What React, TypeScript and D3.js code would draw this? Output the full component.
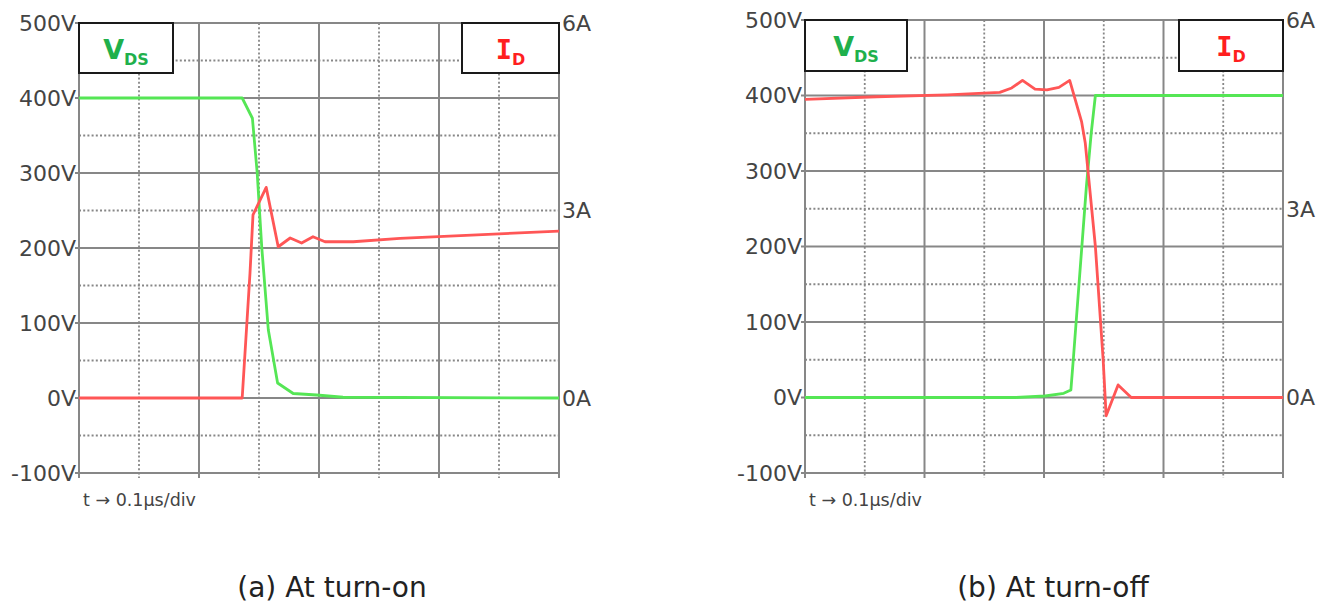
import { useEffect, useRef } from 'react';
import * as d3 from 'd3';

// time in µs, 0.1 µs per division
const turnOnVdsTime = [0, 0.272, 0.289, 0.297, 0.3045, 0.3155, 0.331, 0.357, 0.396, 0.44, 0.8];
const turnOnVds = [400, 400, 373, 300, 202, 91, 20, 6, 4, 1, 0];
const turnOnIdTime = [0, 0.272, 0.285, 0.29, 0.312, 0.332, 0.352, 0.371, 0.39, 0.41, 0.457, 0.535, 0.8];
const turnOnId = [0, 0, 2.0, 2.93, 3.37, 2.42, 2.56, 2.48, 2.58, 2.5, 2.5, 2.555, 2.67];

const turnOffVdsTime = [0, 0.353, 0.402, 0.433, 0.445, 0.449, 0.471, 0.479, 0.486, 0.8];
const turnOffVds = [0, 0, 2, 5.6, 10, 50, 280, 350, 400, 400];
const turnOffIdTime = [0, 0.12, 0.238, 0.326, 0.346, 0.364, 0.385, 0.405, 0.425, 0.443, 0.463, 0.469, 0.486, 0.499, 0.504, 0.524, 0.546, 0.8];
const turnOffId = [4.74, 4.78, 4.81, 4.85, 4.92, 5.04, 4.9, 4.89, 4.93, 5.04, 4.38, 4.05, 2.4, 0.6, -0.29, 0.2, 0, 0];

const timeTicks = [0, 0.1, 0.2, 0.3, 0.4, 0.5, 0.6, 0.7, 0.8];
const voltTicks = [-100, -50, 0, 50, 100, 150, 200, 250, 300, 350, 400, 450, 500];
const voltLabels = [-100, 0, 100, 200, 300, 400, 500];
const ampLabels = [0, 3, 6];

const captions = ['(a) At turn-on', '(b) At turn-off'];

interface PanelLayout {
  left: number;
  right: number;
  top: number;
  bottom: number;
  vdsBoxW: number;
  idBoxW: number;
  boxH: number;
  captionX: number;
}

const layouts: PanelLayout[] = [
  { left: 79, right: 559, top: 23, bottom: 473, vdsBoxW: 94, idBoxW: 97, boxH: 50, captionX: 332 },
  { left: 805, right: 1283, top: 20, bottom: 473, vdsBoxW: 102, idBoxW: 104, boxH: 51, captionX: 1053 },
];

const FONT = '"DejaVu Sans", Verdana, sans-serif';
const GRID = '#878787';
const GREEN = '#55e655';
const RED = '#ff5656';

export default function App() {
  const svgRef = useRef<SVGSVGElement>(null);

  useEffect(() => {
    if (!svgRef.current) return;
    const svg = d3.select(svgRef.current);
    svg.selectAll('*').remove();

    const series = [
      { vt: turnOnVdsTime, v: turnOnVds, it: turnOnIdTime, i: turnOnId },
      { vt: turnOffVdsTime, v: turnOffVds, it: turnOffIdTime, i: turnOffId },
    ];

    layouts.forEach((lay, p) => {
      const g = svg.append('g');
      const x = d3.scaleLinear().domain([0, 0.8]).range([lay.left, lay.right]);
      const yV = d3.scaleLinear().domain([-100, 500]).range([lay.bottom, lay.top]);
      const yA = d3.scaleLinear().domain([-1.2, 6]).range([lay.bottom, lay.top]);

      // grid: solid every 2 divisions / 100 V, dotted in between
      timeTicks.forEach((t, k) => {
        const solid = k % 2 === 0;
        g.append('line')
          .attr('x1', x(t)).attr('x2', x(t))
          .attr('y1', lay.top).attr('y2', lay.bottom + 5)
          .attr('stroke', GRID)
          .attr('stroke-width', solid ? 2 : 1.8)
          .attr('stroke-dasharray', solid ? null : '2,2.2');
      });
      voltTicks.forEach(v => {
        const solid = v % 100 === 0;
        g.append('line')
          .attr('x1', solid ? lay.left - 4 : lay.left).attr('x2', lay.right)
          .attr('y1', yV(v)).attr('y2', yV(v))
          .attr('stroke', GRID)
          .attr('stroke-width', solid ? 2 : 1.8)
          .attr('stroke-dasharray', solid ? null : '2,2.2');
      });

      // label boxes
      const boxes = [
        { bx: lay.left, w: lay.vdsBoxW, main: 'V', sub: 'DS', color: '#1fb04c', mainFont: FONT },
        { bx: lay.right - lay.idBoxW, w: lay.idBoxW, main: 'I', sub: 'D', color: '#ff1f1f', mainFont: '"DejaVu Sans Mono", monospace' },
      ];
      boxes.forEach(b => {
        g.append('rect')
          .attr('x', b.bx).attr('y', lay.top)
          .attr('width', b.w).attr('height', lay.boxH)
          .attr('fill', '#fff')
          .attr('stroke', '#1a1a1a')
          .attr('stroke-width', 2);
        const txt = g.append('text')
          .attr('x', b.bx + b.w / 2)
          .attr('y', lay.top + 35.5)
          .attr('text-anchor', 'middle')
          .attr('fill', b.color)
          .attr('font-weight', 700);
        txt.append('tspan')
          .attr('font-family', b.mainFont)
          .attr('font-size', 27)
          .text(b.main);
        txt.append('tspan')
          .attr('font-family', FONT)
          .attr('font-size', 16)
          .attr('dy', 6)
          .text(b.sub);
      });

      // waveforms
      const s = series[p];
      const vLine = d3.line<number>().x((_, k) => x(s.vt[k])).y(d => yV(d));
      const iLine = d3.line<number>().x((_, k) => x(s.it[k])).y(d => yA(d));

      g.append('path')
        .attr('d', vLine(s.v))
        .attr('fill', 'none')
        .attr('stroke', GREEN)
        .attr('stroke-width', 2.8)
        .attr('stroke-linejoin', 'round');
      g.append('path')
        .attr('d', iLine(s.i))
        .attr('fill', 'none')
        .attr('stroke', RED)
        .attr('stroke-width', 2.8)
        .attr('stroke-linejoin', 'round');

      // axis labels
      voltLabels.forEach(v => {
        g.append('text')
          .attr('x', lay.left - 3)
          .attr('y', yV(v))
          .attr('dy', '0.36em')
          .attr('text-anchor', 'end')
          .attr('font-size', 22)
          .attr('fill', '#444')
          .style('font-family', FONT)
          .text(`${v}V`);
      });
      ampLabels.forEach(a => {
        g.append('text')
          .attr('x', lay.right + 3)
          .attr('y', yA(a))
          .attr('dy', '0.36em')
          .attr('text-anchor', 'start')
          .attr('font-size', 22)
          .attr('fill', '#444')
          .style('font-family', FONT)
          .text(`${a}A`);
      });

      g.append('text')
        .attr('x', lay.left + 4)
        .attr('y', 506)
        .attr('font-size', 17.5)
        .attr('fill', '#444')
        .style('font-family', FONT)
        .text('t → 0.1μs/div');

      g.append('text')
        .attr('x', lay.captionX)
        .attr('y', 597)
        .attr('text-anchor', 'middle')
        .attr('font-size', 28)
        .attr('fill', '#222')
        .style('font-family', FONT)
        .text(captions[p]);
    });
  }, []);

  return (
    <svg
      ref={svgRef}
      width={1331}
      height={604}
      style={{ position: 'absolute', left: 0, top: 0, background: '#fff' }}
    />
  );
}
